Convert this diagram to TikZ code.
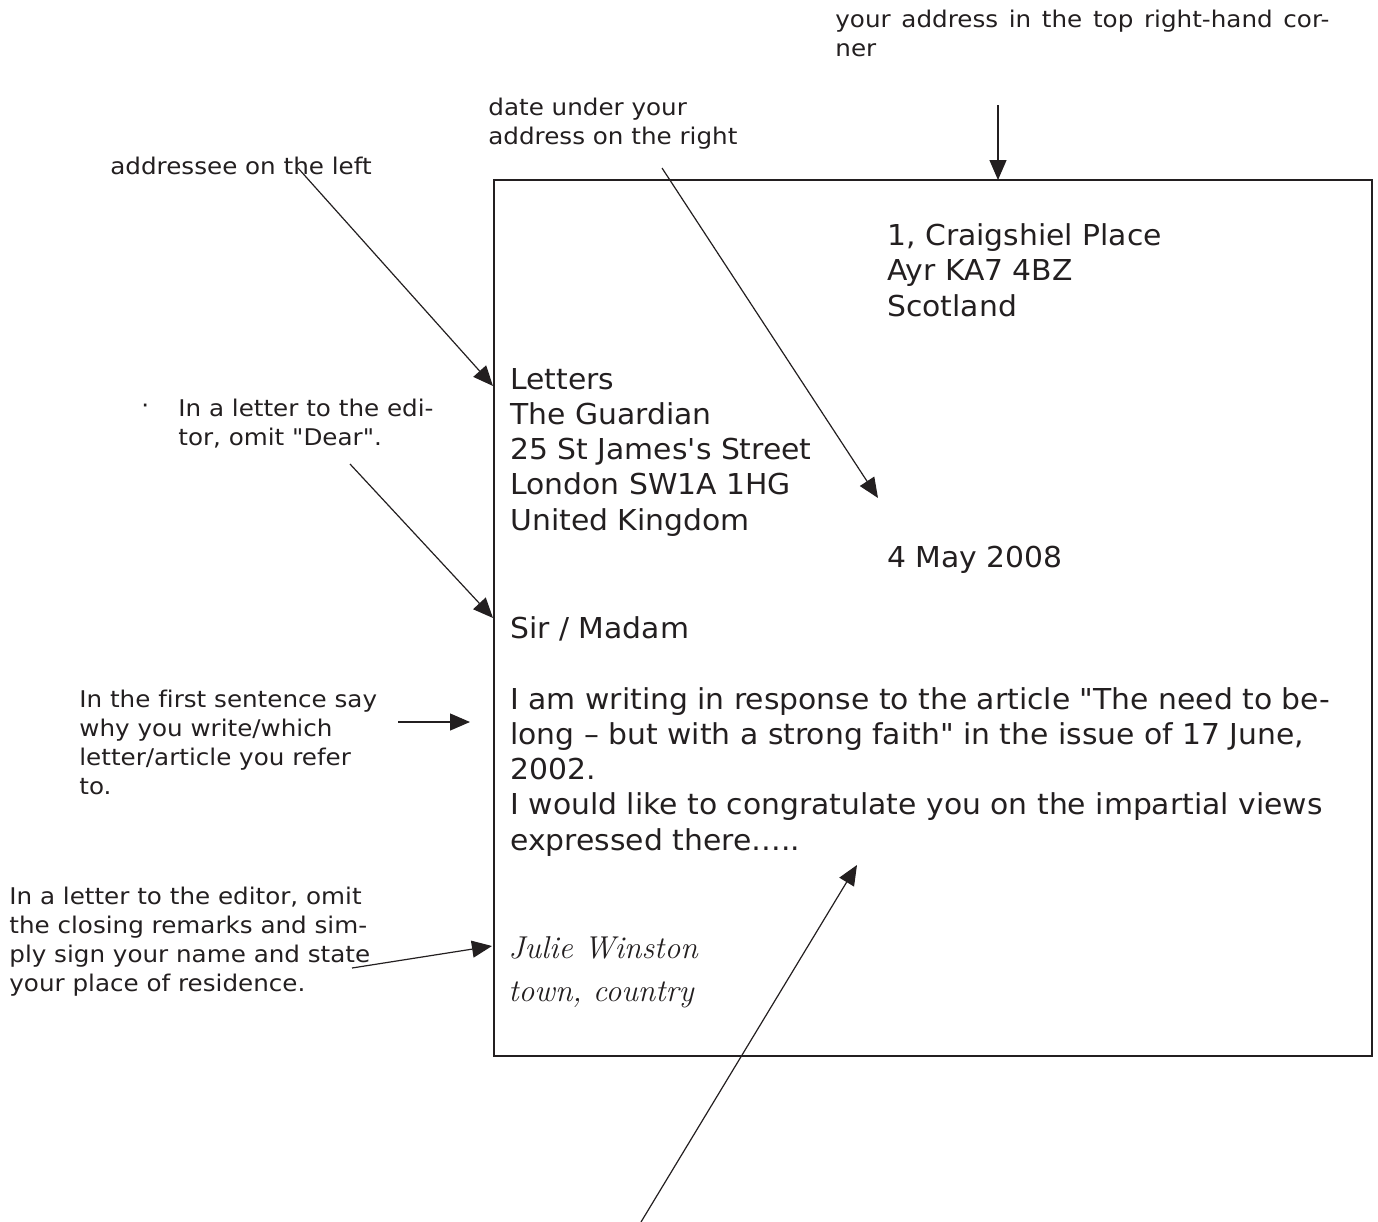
\documentclass[tikz,border=0pt]{standalone}
\usepackage{fontspec}
\usetikzlibrary{arrows.meta, positioning}
\newfontfamily\notefont[Ligatures={TeXOff,NoCommon}, FakeStretch=1.07]{DejaVu Sans}
\newfontfamily\letterfont[Ligatures={TeXOff,NoCommon}, FakeStretch=1.035]{DejaVu Sans}
\definecolor{ink}{HTML}{231F20}
\tikzset{
note/.style={font=\notefont\fontsize{11.5}{14.4}\selectfont, align=left, anchor=base west, inner sep=0pt, text=ink}, % the hints round the sheet
letter/.style={font=\letterfont\fontsize{14.4}{17.6}\selectfont, align=left, anchor=base west, inner sep=0pt, text=ink}, % the letter itself
sign/.style={font=\itshape\fontsize{15.8}{21.5}\selectfont, align=left, anchor=base west, inner sep=0pt, text=ink},
pointer/.style={draw=ink, line width=0.6pt, -{Triangle[length=10pt,width=8.5pt]}},
sheet/.style={draw=ink, line width=1pt},
}

\begin{document}
\begin{tikzpicture}[x=0.5pt, y=-0.5pt]
\useasboundingbox (0,0) rectangle (1378,1222);
% the sheet
\coordinate (sheetnw) at (494,180);
\coordinate (sheetse) at (1372,1056);
\draw[sheet] (sheetnw) rectangle (sheetse);
% hints (placed at the baseline of their last line)
\node[note] (cornernote) at (835,56) {\makebox[247pt][s]{your address in the top right-hand cor-}\\ner};
\node[note] (datenote) at (488,144) {date under your\\address on the right};
\node[note] (addresseenote) at (110,174) {addressee on the left};
\node[note] (straydot) at (141,413) {·};
\node[note] (dearnote) at (178,445) {In a letter to the edi-\\tor, omit "Dear".};
\node[note] (firstnote) at (79,794) {In the first sentence say\\why you write/which\\letter/article you refer\\to.};
\node[note] (closingnote) at (9,991) {In a letter to the editor, omit\\the closing remarks and sim-\\ply sign your name and state\\your place of residence.};
% the letter
\node[letter] (sender) at (887,316) {1, Craigshiel Place\\Ayr KA7 4BZ\\Scotland};
\node[letter] (recipient) at (510,530) {Letters\\The Guardian\\25 St James's Street\\London SW1A 1HG\\United Kingdom};
\node[letter] (date) at (887,567) {4 May 2008};
\node[letter] (salutation) at (510,638) {Sir / Madam};
\node[letter] (body) at (510,850) {I am writing in response to the article "The need to be-\\long – but with a strong faith" in the issue of 17 June,\\2002.\\I would like to congratulate you on the impartial views\\expressed there…..};
\node[sign] (signature) at (508,1001) {Julie Winston\\town, country};
% ends of the pointers
\coordinate (cornertail) at (998,105);
\coordinate (cornertip) at (998,180);
\coordinate (addresseetail) at (298,168);
\coordinate (addresseetip) at (493,386);
\coordinate (datetail) at (662,168);
\coordinate (datetip) at (878,498);
\coordinate (deartail) at (350,464);
\coordinate (deartip) at (493,618);
\coordinate (firsttail) at (398,722);
\coordinate (firsttip) at (470,722);
\coordinate (closingtail) at (352,968);
\coordinate (closingtip) at (492,946);
\coordinate (bodytail) at (641,1222);
\coordinate (bodytip) at (857,865);
\draw[pointer] (cornertail) -- (cornertip);
\draw[pointer] (addresseetail) -- (addresseetip);
\draw[pointer] (datetail) -- (datetip);
\draw[pointer] (deartail) -- (deartip);
\draw[pointer] (firsttail) -- (firsttip);
\draw[pointer] (closingtail) -- (closingtip);
\draw[pointer] (bodytail) -- (bodytip);
\end{tikzpicture}
\end{document}
